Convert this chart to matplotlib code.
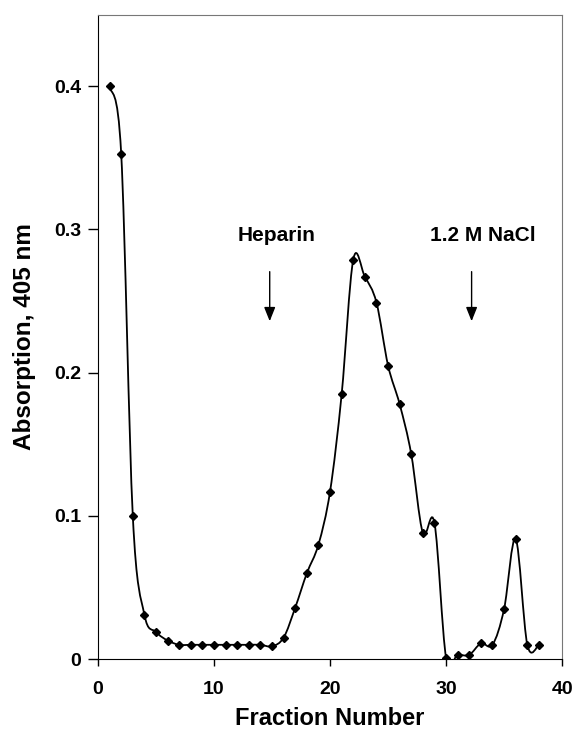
import matplotlib.pyplot as plt
import numpy as np
from matplotlib.path import Path
from matplotlib.patches import PathPatch

plt.rcParams['font.family'] = ['Liberation Sans', 'DejaVu Sans']
plt.rcParams['font.weight'] = 'bold'

fraction = list(range(1, 39))
absorption = [0.400, 0.353, 0.100, 0.031, 0.019, 0.013, 0.010, 0.010, 0.010, 0.010,
              0.010, 0.010, 0.010, 0.010, 0.009, 0.015, 0.036, 0.060, 0.080, 0.117,
              0.185, 0.279, 0.267, 0.249, 0.205, 0.178, 0.143, 0.088, 0.095, 0.001,
              0.003, 0.003, 0.011, 0.010, 0.035, 0.084, 0.010, 0.010]

annotations = ['Heparin', '1.2 M NaCl']
arrow_x = [14.8, 32.2]
label_x = [15.4, 33.2]


def smooth_path(x, y):
    # Excel-style smoothed line: cubic Bezier segments through each point
    x = np.asarray(x, float)
    y = np.asarray(y, float)
    n = len(x)
    verts = [(x[0], y[0])]
    codes = [Path.MOVETO]
    for i in range(n - 1):
        x0, y0 = (x[i - 1], y[i - 1]) if i > 0 else (x[i], y[i])
        x3, y3 = (x[i + 2], y[i + 2]) if i + 2 < n else (x[i + 1], y[i + 1])
        c1 = (x[i] + (x[i + 1] - x0) / 6, y[i] + (y[i + 1] - y0) / 6)
        c2 = (x[i + 1] - (x3 - x[i]) / 6, y[i + 1] - (y3 - y[i]) / 6)
        verts += [c1, c2, (x[i + 1], y[i + 1])]
        codes += [Path.CURVE4] * 3
    return Path(verts, codes)


fig = plt.figure(figsize=(5.73, 7.34), dpi=100)
ax = fig.add_axes([0.171, 0.102, 0.81, 0.878])

ax.add_patch(PathPatch(smooth_path(fraction, absorption), fill=False, lw=1.3, color='black'))
ax.plot(fraction, absorption, linestyle='none', marker='D', markersize=4.2, color='black')

ax.set_xlim(0, 40)
ax.set_ylim(0, 0.45)
ax.set_xticks([0, 10, 20, 30, 40])
ax.set_yticks([0, 0.1, 0.2, 0.3, 0.4])
ax.set_yticklabels(['0', '0.1', '0.2', '0.3', '0.4'])
ax.tick_params(direction='out', width=1, labelsize=14)
ax.tick_params(axis='x', length=5, pad=11)
ax.tick_params(axis='y', length=7, pad=5)
for s in ['top', 'right']:
    ax.spines[s].set_color('#777777')
    ax.spines[s].set_linewidth(0.8)

ax.set_xlabel('Fraction Number', fontsize=17, fontweight='bold', labelpad=6)
ax.set_ylabel('Absorption, 405 nm', fontsize=17.5, fontweight='bold', labelpad=13)

for label, xa, xl in zip(annotations, arrow_x, label_x):
    ax.text(xl, 0.2955, label, ha='center', va='center', fontsize=15, fontweight='bold')
    ax.annotate('', xy=(xa, 0.234), xytext=(xa, 0.2725),
                arrowprops=dict(arrowstyle='-|>,head_length=0.5,head_width=0.2',
                                color='black', lw=1, mutation_scale=17))

fig.savefig('out.png', dpi=100)
